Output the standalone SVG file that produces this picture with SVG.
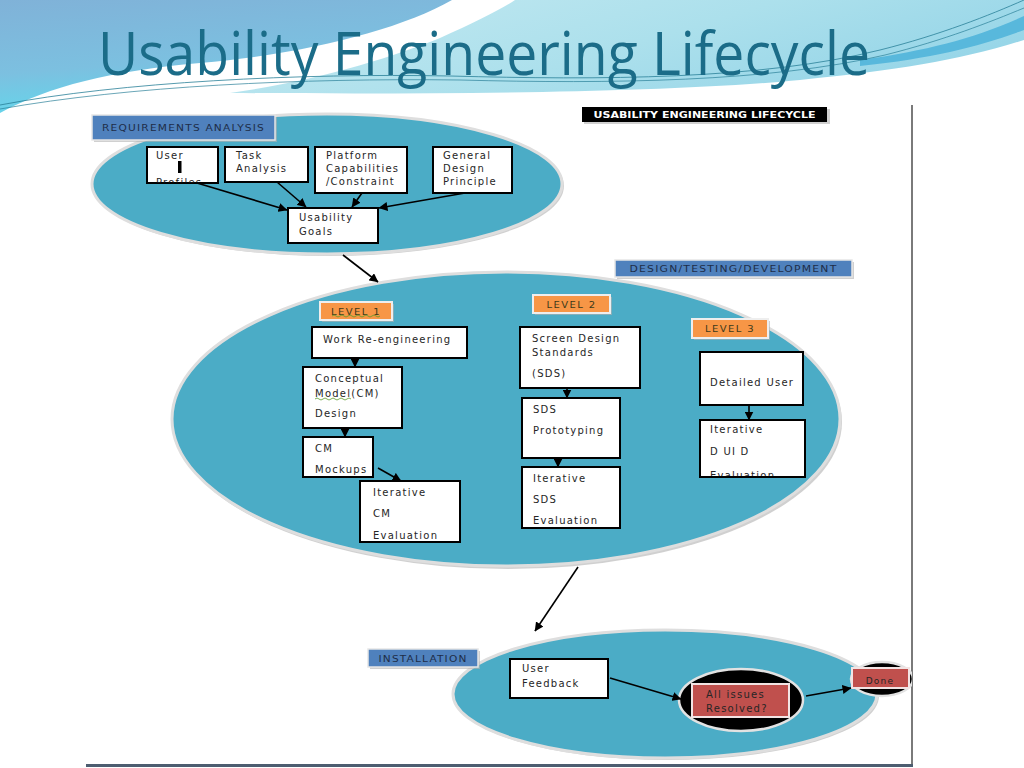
<svg xmlns="http://www.w3.org/2000/svg" width="1024" height="768" viewBox="0 0 1024 768">
  <defs>
    <linearGradient id="gLeft" x1="0" y1="0" x2="0.3" y2="1">
      <stop offset="0" stop-color="#80b2d8"/>
      <stop offset="0.6" stop-color="#7cc0e0"/>
      <stop offset="1" stop-color="#62d8ec"/>
    </linearGradient>
    <linearGradient id="gRight" x1="0" y1="0" x2="1" y2="0.4">
      <stop offset="0" stop-color="#c4e9f1"/>
      <stop offset="0.6" stop-color="#ace0ec"/>
      <stop offset="1" stop-color="#98d6e8"/>
    </linearGradient>
    <marker id="arr" markerUnits="userSpaceOnUse" markerWidth="9" markerHeight="9" refX="8.5" refY="4.5" orient="auto">
      <path d="M0,0 L9,4.5 L0,9 z" fill="#000"/>
    </marker>
    <clipPath id="clipPage"><rect x="86" y="103" width="826" height="662"/></clipPath>
    <clipPath id="clipProfiles"><rect x="148" y="148" width="69" height="34.5"/></clipPath>
    <clipPath id="clipDUID"><rect x="701" y="421" width="103" height="55"/></clipPath>
    <clipPath id="clipDone"><rect x="852" y="668" width="57" height="20"/></clipPath>
    <style>
      .t { font-family: "DejaVu Sans", "Liberation Sans", sans-serif; font-size: 10px; fill: #262626; letter-spacing: 1.25px; }
      .lbl { font-family: "DejaVu Sans", "Liberation Sans", sans-serif; font-size: 9px; fill: #1e2d48; letter-spacing: 1px; }
      .box { fill: #ffffff; stroke: #000; stroke-width: 2; }
      .stage { fill: #4bacc6; stroke: #dedede; stroke-width: 3; }
      .blue { fill: #4f81bd; stroke: #e6e6e6; stroke-width: 1.5; }
      .orange { fill: #f79646; stroke: #eeeeee; stroke-width: 2; }
      .shadow { fill: #b0b0b0; opacity: 0.6; }
      .con { stroke: #000; stroke-width: 1.6; fill: none; marker-end: url(#arr); }
      .red { fill: #c0504d; stroke: #f2e4e4; stroke-width: 2; }
    </style>
  </defs>

  <!-- slide background -->
  <rect x="0" y="0" width="1024" height="768" fill="#ffffff"/>
  <g id="header">
    <path d="M0,0 H452 C400,30 300,55 200,63 C110,71 50,86 0,113 Z" fill="url(#gLeft)"/>
    <path d="M515,0 H1024 V40 C960,60 900,70 800,80 C650,94 420,94 230,93 C320,80 390,58 440,38 C475,22 500,10 515,0 Z" fill="url(#gRight)"/>
    <path d="M1024,16 C975,38 930,50 860,60 L860,66 C935,58 980,46 1024,30 Z" fill="#58b8dc"/>
    <path d="M0,105 C120,82 300,73 450,76 C600,80 760,80 880,50 C940,35 990,15 1024,0" fill="none" stroke="#2a8098" stroke-width="0.8"/>
    <path d="M0,109 C130,86 300,78 460,80 C610,84 770,82 885,55 C945,40 990,22 1024,8" fill="none" stroke="#2a8098" stroke-width="0.7"/>
    <text x="98" y="75" font-family="'Open Sans', 'Noto Sans', sans-serif" font-size="60" fill="#1b6c88" textLength="772" lengthAdjust="spacingAndGlyphs">Usability Engineering Lifecycle</text>
  </g>

  <!-- page -->
  <g id="page">
    <rect x="86" y="103" width="826" height="662" fill="#ffffff"/>
    <line x1="912" y1="105" x2="912" y2="766" stroke="#7a7a7a" stroke-width="2"/>
    <line x1="86" y1="765.5" x2="913" y2="765.5" stroke="#4d5d70" stroke-width="3"/>
  </g>

  <g id="title-label">
    <rect x="584" y="109" width="246" height="15" class="shadow"/>
    <rect x="582" y="107" width="245" height="15" fill="#000"/>
    <text x="704.5" y="118" text-anchor="middle" font-family="'DejaVu Sans', sans-serif" font-size="8.5" font-weight="bold" fill="#fff" textLength="222" lengthAdjust="spacingAndGlyphs">USABILITY ENGINEERING LIFECYCLE</text>
  </g>

  <!-- stage ellipses -->
  <g id="stage-requirements">
    <ellipse cx="329" cy="186" rx="235" ry="70" class="shadow"/>
    <ellipse cx="327" cy="184" rx="235" ry="70" class="stage"/>
    <rect x="94" y="117" width="183" height="25" class="shadow"/>
    <rect x="92" y="115" width="183" height="25" class="blue"/>
    <text x="183.5" y="131" text-anchor="middle" class="lbl" textLength="163" lengthAdjust="spacingAndGlyphs">REQUIREMENTS ANALYSIS</text>
  </g>
  <g id="stage-design">
    <ellipse cx="508" cy="422" rx="334" ry="147" class="shadow"/>
    <ellipse cx="506" cy="419" rx="334" ry="147" class="stage"/>
    <rect x="617" y="262" width="237" height="17" class="shadow"/>
    <rect x="615" y="260" width="237" height="17" class="blue"/>
    <text x="733.5" y="272" text-anchor="middle" class="lbl" textLength="208" lengthAdjust="spacingAndGlyphs">DESIGN/TESTING/DEVELOPMENT</text>
  </g>
  <g id="stage-installation">
    <ellipse cx="667" cy="696" rx="212" ry="64" class="shadow"/>
    <ellipse cx="665" cy="694" rx="212" ry="64" class="stage"/>
    <rect x="370" y="651" width="110" height="18" class="shadow"/>
    <rect x="368" y="649" width="110" height="18" class="blue"/>
    <text x="423" y="661.5" text-anchor="middle" class="lbl" textLength="89" lengthAdjust="spacingAndGlyphs">INSTALLATION</text>
  </g>

  <!-- requirements nodes -->
  <g id="user-profiles">
    <rect x="147" y="147" width="71" height="36" class="box"/>
    <text x="156" y="159" class="t">User</text>
    <rect x="178" y="161" width="3.5" height="12" fill="#000"/>
    <g clip-path="url(#clipProfiles)"><text x="156" y="186" class="t">Profiles</text></g>
  </g>
  <g id="task-analysis">
    <rect x="225" y="147" width="83" height="35" class="box"/>
    <text x="236" y="159" class="t">Task</text>
    <text x="236" y="172" class="t">Analysis</text>
  </g>
  <g id="platform">
    <rect x="315" y="147" width="92" height="46" class="box"/>
    <text x="326" y="159" class="t">Platform</text>
    <text x="326" y="172" class="t">Capabilities</text>
    <text x="326" y="185" class="t">/Constraint</text>
  </g>
  <g id="general-design">
    <rect x="433" y="147" width="79" height="46" class="box"/>
    <text x="443" y="159" class="t">General</text>
    <text x="443" y="172" class="t">Design</text>
    <text x="443" y="185" class="t">Principle</text>
  </g>
  <g id="usability-goals">
    <rect x="288" y="208" width="90" height="35" class="box"/>
    <text x="299" y="221" class="t">Usability</text>
    <text x="299" y="235" class="t">Goals</text>
  </g>

  <!-- level labels -->
  <g id="level-1">
    <rect x="322" y="304" width="72" height="18" class="shadow"/>
    <rect x="320" y="302" width="72" height="18" class="orange"/>
    <text x="356" y="315" text-anchor="middle" class="t" style="font-size:9px;fill:#3d3a1a" textLength="50" lengthAdjust="spacingAndGlyphs">LEVEL 1</text>
    <path d="M332,316 q2,-2 4,0 t4,0 t4,0 t4,0 t4,0 t4,0 t4,0 t4,0 t4,0 t4,0 t4,0 t4,0" fill="none" stroke="#5a9a2a" stroke-width="0.8"/>
  </g>
  <g id="level-2">
    <rect x="535" y="297" width="77" height="18" class="shadow"/>
    <rect x="533" y="295" width="77" height="18" class="orange"/>
    <text x="571.5" y="308" text-anchor="middle" class="t" style="font-size:9px;fill:#3d3a1a" textLength="50" lengthAdjust="spacingAndGlyphs">LEVEL 2</text>
  </g>
  <g id="level-3">
    <rect x="694" y="321" width="76" height="19" class="shadow"/>
    <rect x="692" y="319" width="76" height="19" class="orange"/>
    <text x="730" y="332" text-anchor="middle" class="t" style="font-size:9px;fill:#3d3a1a" textLength="50" lengthAdjust="spacingAndGlyphs">LEVEL 3</text>
  </g>

  <!-- level 1 nodes -->
  <g id="work-reengineering">
    <rect x="312" y="327" width="155" height="31" class="box"/>
    <text x="323" y="343" class="t">Work Re-engineering</text>
  </g>
  <g id="conceptual-model">
    <rect x="303" y="367" width="99" height="61" class="box"/>
    <text x="315" y="382" class="t">Conceptual</text>
    <text x="315" y="397" class="t">Model(CM)</text>
    <path d="M315,399 q2,-2 4,0 t4,0 t4,0 t4,0 t4,0 t4,0 t4,0 t4,0 t4,0" fill="none" stroke="#5a9a2a" stroke-width="0.8"/>
    <text x="315" y="417" class="t">Design</text>
  </g>
  <g id="cm-mockups">
    <rect x="303" y="437" width="70" height="40" class="box"/>
    <text x="315" y="452" class="t">CM</text>
    <text x="315" y="473" class="t">Mockups</text>
  </g>
  <g id="iterative-cm">
    <rect x="360" y="481" width="100" height="61" class="box"/>
    <text x="373" y="496" class="t">Iterative</text>
    <text x="373" y="517" class="t">CM</text>
    <text x="373" y="539" class="t">Evaluation</text>
  </g>

  <!-- level 2 nodes -->
  <g id="sds">
    <rect x="520" y="327" width="120" height="61" class="box"/>
    <text x="532" y="342" class="t">Screen Design</text>
    <text x="532" y="356" class="t">Standards</text>
    <text x="532" y="377" class="t">(SDS)</text>
  </g>
  <g id="sds-prototyping">
    <rect x="522" y="398" width="98" height="60" class="box"/>
    <text x="533" y="413" class="t">SDS</text>
    <text x="533" y="434" class="t">Prototyping</text>
  </g>
  <g id="iterative-sds">
    <rect x="522" y="467" width="98" height="61" class="box"/>
    <text x="533" y="482" class="t">Iterative</text>
    <text x="533" y="503" class="t">SDS</text>
    <text x="533" y="524" class="t">Evaluation</text>
  </g>

  <!-- level 3 nodes -->
  <g id="detailed-user">
    <rect x="700" y="352" width="103" height="53" class="box"/>
    <text x="710" y="386" class="t">Detailed User</text>
  </g>
  <g id="iterative-duid">
    <rect x="700" y="420" width="105" height="57" fill="#fff" stroke="#000" stroke-width="2"/>
    <text x="710" y="433" class="t">Iterative</text>
    <text x="710" y="455" class="t">D UI D</text>
    <g clip-path="url(#clipDUID)"><text x="710" y="479" class="t">Evaluation</text></g>
  </g>

  <!-- installation nodes -->
  <g id="user-feedback">
    <rect x="510" y="659" width="98" height="39" class="box"/>
    <text x="522" y="672" class="t">User</text>
    <text x="522" y="687" class="t">Feedback</text>
  </g>
  <g id="all-issues">
    <ellipse cx="741" cy="700" rx="62" ry="31" fill="#000" stroke="#e2e2e2" stroke-width="2.5"/>
    <rect x="692" y="684" width="97" height="33" class="red"/>
    <text x="706" y="698" class="t">All issues</text>
    <text x="706" y="712" class="t">Resolved?</text>
  </g>
  <g id="done" clip-path="url(#clipPage)">
    <ellipse cx="882" cy="679" rx="31" ry="17" fill="#000" stroke="#e2e2e2" stroke-width="2.5"/>
    <rect x="852" y="668" width="57" height="20" class="red"/>
    <g clip-path="url(#clipDone)"><text x="880" y="684" text-anchor="middle" class="t" style="font-size:9px">Done</text></g>
  </g>

  <!-- connectors -->
  <g id="connectors">
    <line x1="197" y1="183" x2="287" y2="210" class="con"/>
    <line x1="277" y1="182" x2="306" y2="207" class="con"/>
    <line x1="362" y1="193" x2="352" y2="207" class="con"/>
    <line x1="465" y1="193" x2="379" y2="208" class="con"/>
    <line x1="343" y1="255" x2="378" y2="282" class="con"/>
    <line x1="355" y1="358" x2="355" y2="367" class="con"/>
    <line x1="345" y1="428" x2="345" y2="437" class="con"/>
    <line x1="378" y1="468" x2="401" y2="481" class="con"/>
    <line x1="567" y1="388" x2="567" y2="398" class="con"/>
    <line x1="558" y1="458" x2="558" y2="467" class="con"/>
    <line x1="749" y1="405" x2="749" y2="420" class="con"/>
    <line x1="578" y1="567" x2="535" y2="631" class="con"/>
    <line x1="610" y1="678" x2="681" y2="699" class="con"/>
    <line x1="806" y1="696" x2="851" y2="688" class="con"/>
  </g>
</svg>
